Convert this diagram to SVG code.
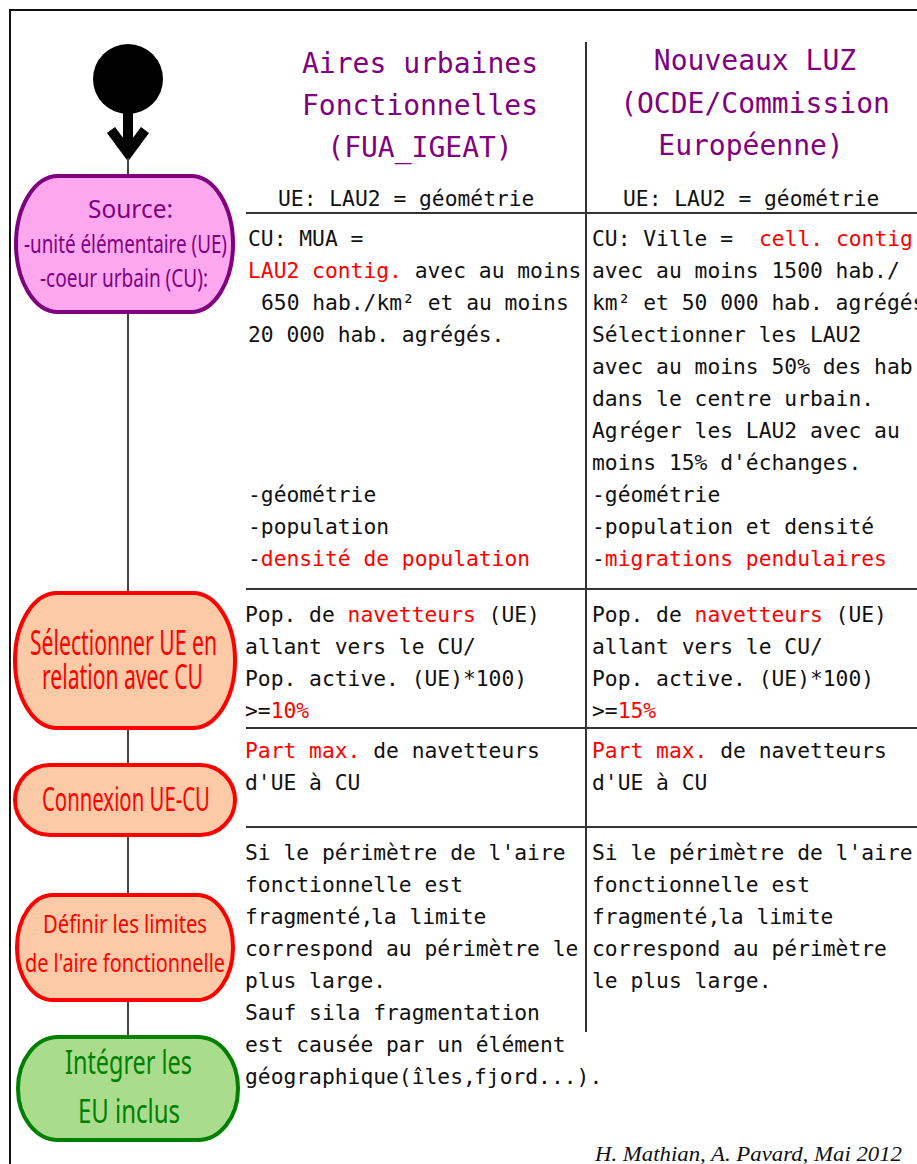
<svg xmlns="http://www.w3.org/2000/svg" width="917" height="1164" viewBox="0 0 917 1164">
<style>
.t{font-family:"DejaVu Sans Mono","Liberation Mono",monospace;font-size:21.3px;fill:#111;white-space:pre}
.r{fill:#ff0000}
.h{font-family:"DejaVu Sans Mono","Liberation Mono",monospace;font-size:28px;fill:#800080;text-anchor:middle}
.n{font-family:"Noto Sans","DejaVu Sans",sans-serif}
.grid{stroke:#333;stroke-width:2;fill:none}
.conn{stroke:#444;stroke-width:2;fill:none}
.pink{fill:#fda8ee;stroke:#800080;stroke-width:4}
.peach{fill:#fccaa6;stroke:#ff0000;stroke-width:4}
.green{fill:#a9dc8c;stroke:#008000;stroke-width:4}
</style>
<rect width="917" height="1164" fill="#ffffff"/>
<path d="M10,1164 V10 H917" fill="none" stroke="#111" stroke-width="2"/>

<g id="table" class="grid">
<path d="M586,42 V1032"/>
<path d="M246,213 H917"/>
<path d="M246,589 H917"/>
<path d="M246,728 H917"/>
<path d="M246,827 H917"/>
</g>

<g id="connectors">
<path d="M123,112 V150 H133 V112 Z" fill="#000"/>
<path d="M111,130 L128,153 L145,130" fill="none" stroke="#000" stroke-width="10" stroke-linejoin="miter" stroke-miterlimit="10"/>
<path class="conn" d="M128,158 V176"/>
<path class="conn" d="M128,312 V593"/>
<path class="conn" d="M128,728 V765"/>
<path class="conn" d="M128,835 V895"/>
<path class="conn" d="M128,1000 V1037"/>
</g>

<g id="start"><circle cx="128" cy="79" r="35" fill="#000"/></g>

<g id="source">
<rect class="pink" x="16" y="176" width="217" height="136" rx="42" ry="68"/>
<g class="n" fill="#800080" font-size="25">
<text x="88" y="218" textLength="85" lengthAdjust="spacingAndGlyphs">Source:</text>
<text x="24" y="253" textLength="203" lengthAdjust="spacingAndGlyphs">-unité élémentaire (UE)</text>
<text x="40" y="287" textLength="168" lengthAdjust="spacingAndGlyphs">-coeur urbain (CU):</text>
</g>
</g>

<g id="selectionner">
<rect class="peach" x="15" y="593" width="220" height="135" rx="42" ry="67"/>
<g class="n" fill="#ff0000" font-size="34">
<text x="30" y="655" textLength="187" lengthAdjust="spacingAndGlyphs">Sélectionner UE en</text>
<text x="42" y="689" textLength="161" lengthAdjust="spacingAndGlyphs">relation avec CU</text>
</g>
</g>

<g id="connexion">
<rect class="peach" x="15" y="765" width="220" height="70" rx="35" ry="35"/>
<text class="n" fill="#ff0000" font-size="33" x="42" y="811" textLength="168" lengthAdjust="spacingAndGlyphs">Connexion UE-CU</text>
</g>

<g id="definir">
<rect class="peach" x="17" y="895" width="216" height="105" rx="36" ry="52"/>
<g class="n" fill="#ff0000" font-size="26">
<text x="43" y="933" textLength="164" lengthAdjust="spacingAndGlyphs">Définir les limites</text>
<text x="25" y="972" textLength="200" lengthAdjust="spacingAndGlyphs">de l'aire fonctionnelle</text>
</g>
</g>

<g id="integrer">
<rect class="green" x="18" y="1037" width="220" height="103" rx="40" ry="51"/>
<g class="n" fill="#008000" font-size="33">
<text x="65" y="1074" textLength="127" lengthAdjust="spacingAndGlyphs">Intégrer les</text>
<text x="78" y="1123" textLength="102" lengthAdjust="spacingAndGlyphs">EU inclus</text>
</g>
</g>

<g id="header-fua">
<text class="h" x="420" y="73">Aires urbaines</text>
<text class="h" x="420" y="115">Fonctionnelles</text>
<text class="h" x="420" y="157">(FUA_IGEAT)</text>
<text class="t" x="278" y="206">UE: LAU2 = géométrie</text>
</g>

<g id="header-luz">
<text class="h" x="755" y="70">Nouveaux LUZ</text>
<text class="h" x="755" y="113">(OCDE/Commission</text>
<text class="h" x="751" y="155">Européenne)</text>
<text class="t" x="623" y="206">UE: LAU2 = géométrie</text>
</g>

<g id="cell-fua-cu" class="t">
<text x="248" y="246">CU: MUA =</text>
<text x="248" y="278"><tspan class="r">LAU2 contig.</tspan> avec au moins</text>
<text x="261" y="310">650 hab./km² et au moins</text>
<text x="248" y="342">20 000 hab. agrégés.</text>
<text x="248" y="502">-géométrie</text>
<text x="248" y="534">-population</text>
<text x="248" y="566">-<tspan class="r">densité de population</tspan></text>
</g>

<g id="cell-luz-cu" class="t">
<text x="592" y="246">CU: Ville = <tspan x="759" class="r">cell. contig.</tspan></text>
<text x="592" y="278">avec au moins 1500 hab./</text>
<text x="592" y="310">km² et 50 000 hab. agrégés.</text>
<text x="592" y="342">Sélectionner les LAU2</text>
<text x="592" y="374">avec au moins 50% des hab.</text>
<text x="592" y="406">dans le centre urbain.</text>
<text x="592" y="438">Agréger les LAU2 avec au</text>
<text x="592" y="470">moins 15% d'échanges.</text>
<text x="592" y="502">-géométrie</text>
<text x="592" y="534">-population et densité</text>
<text x="592" y="566">-<tspan class="r">migrations pendulaires</tspan></text>
</g>

<g id="cell-fua-sel" class="t">
<text x="245" y="622">Pop. de <tspan class="r">navetteurs</tspan> (UE)</text>
<text x="245" y="654">allant vers le CU/</text>
<text x="245" y="686">Pop. active. (UE)*100)</text>
<text x="245" y="718">&gt;=<tspan class="r">10%</tspan></text>
</g>

<g id="cell-luz-sel" class="t">
<text x="592" y="622">Pop. de <tspan class="r">navetteurs</tspan> (UE)</text>
<text x="592" y="654">allant vers le CU/</text>
<text x="592" y="686">Pop. active. (UE)*100)</text>
<text x="592" y="718">&gt;=<tspan class="r">15%</tspan></text>
</g>

<g id="cell-fua-con" class="t">
<text x="245" y="758"><tspan class="r">Part max.</tspan> de navetteurs</text>
<text x="245" y="790">d'UE à CU</text>
</g>

<g id="cell-luz-con" class="t">
<text x="592" y="758"><tspan class="r">Part max.</tspan> de navetteurs</text>
<text x="592" y="790">d'UE à CU</text>
</g>

<g id="cell-fua-lim" class="t">
<text x="245" y="860">Si le périmètre de l'aire</text>
<text x="245" y="892">fonctionnelle est</text>
<text x="245" y="924">fragmenté,<tspan x="371">la limite</tspan></text>
<text x="245" y="956">correspond au périmètre le</text>
<text x="245" y="988">plus large.</text>
<text x="245" y="1020">Sauf sila fragmentation</text>
<text x="245" y="1052">est causée par un élément</text>
<text x="245" y="1084">géographique(îles,<tspan x="474">fjord...).</tspan></text>
</g>

<g id="cell-luz-lim" class="t">
<text x="592" y="860">Si le périmètre de l'aire</text>
<text x="592" y="892">fonctionnelle est</text>
<text x="592" y="924">fragmenté,<tspan x="718">la limite</tspan></text>
<text x="592" y="956">correspond au périmètre</text>
<text x="592" y="988">le plus large.</text>
</g>

<g id="credit">
<text x="595" y="1161" font-family="Liberation Serif,serif" font-style="italic" font-size="22" fill="#111" textLength="307" lengthAdjust="spacingAndGlyphs">H. Mathian, A. Pavard, Mai 2012</text>
</g>
</svg>
